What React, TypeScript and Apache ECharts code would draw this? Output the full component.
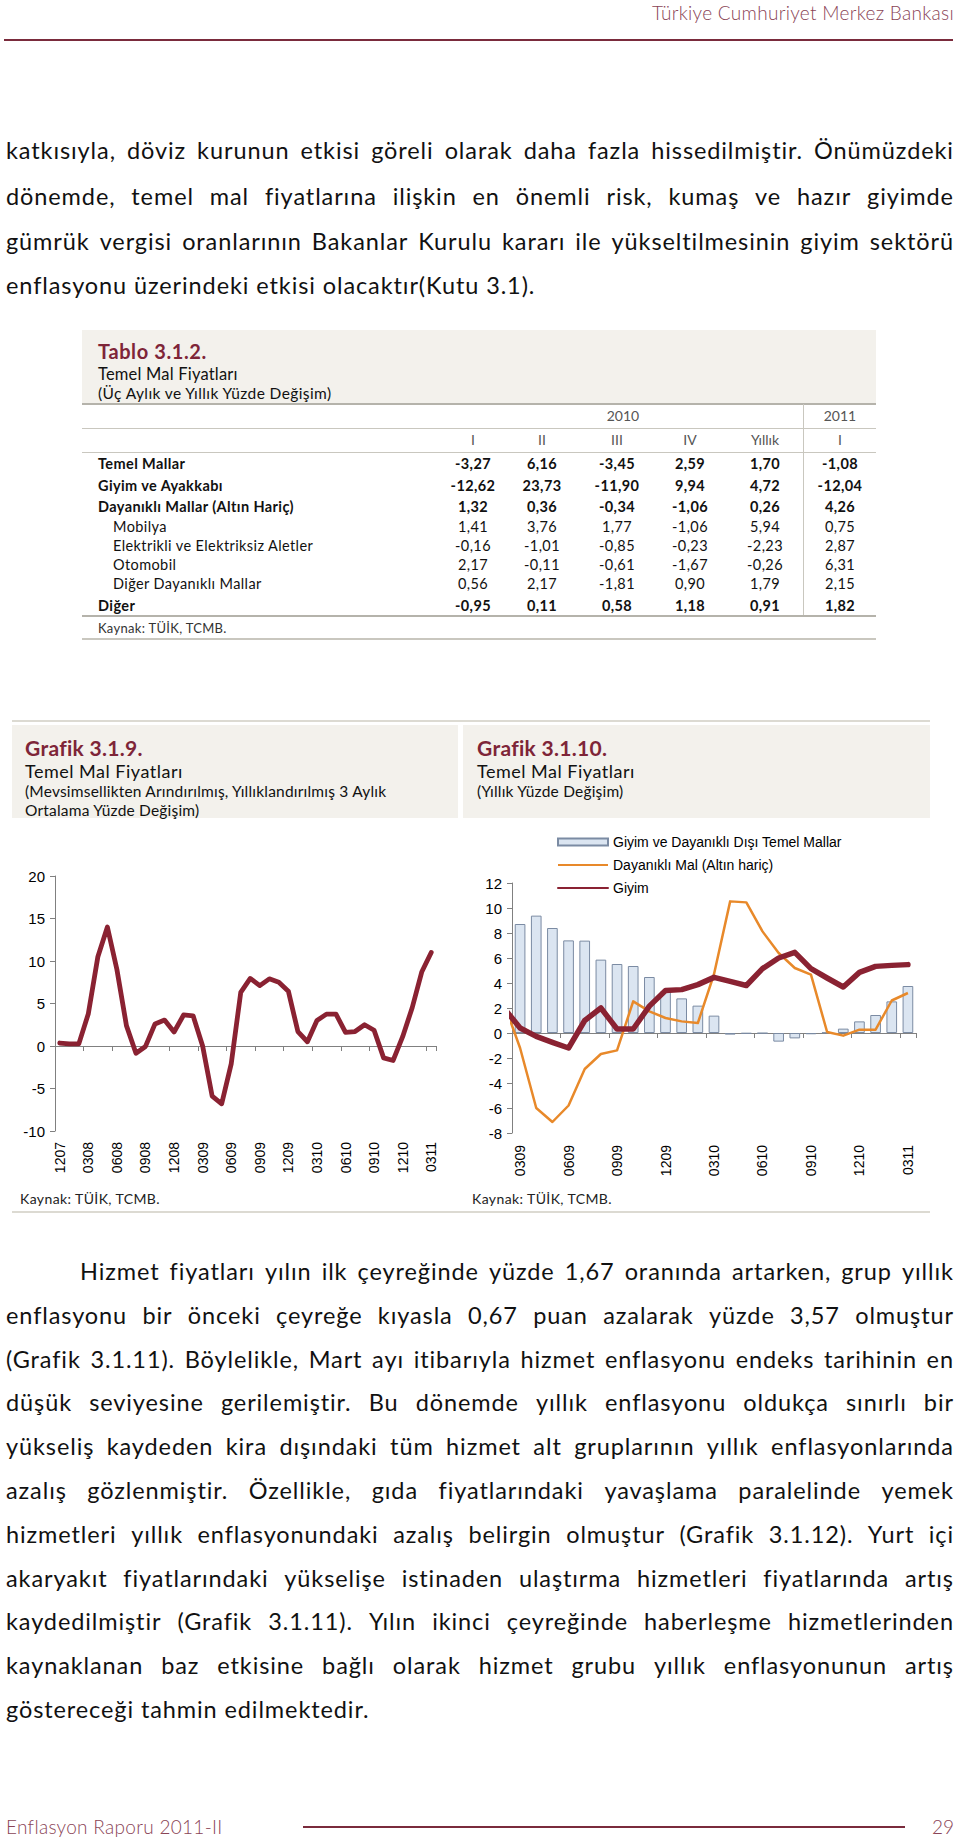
import React, { useEffect, useRef } from "react";
import * as echarts from "echarts";

// ---------- DATA ----------
const tableCols = ["I", "II", "III", "IV", "Yıllık", "I"];
const tableRowLabels = [
  "Temel Mallar",
  "Giyim ve Ayakkabı",
  "Dayanıklı Mallar (Altın Hariç)",
  "Mobilya",
  "Elektrikli ve Elektriksiz Aletler",
  "Otomobil",
  "Diğer Dayanıklı Mallar",
  "Diğer",
];
const tableRowBold = [true, true, true, false, false, false, false, true];
const tableValues = [
  ["-3,27", "6,16", "-3,45", "2,59", "1,70", "-1,08"],
  ["-12,62", "23,73", "-11,90", "9,94", "4,72", "-12,04"],
  ["1,32", "0,36", "-0,34", "-1,06", "0,26", "4,26"],
  ["1,41", "3,76", "1,77", "-1,06", "5,94", "0,75"],
  ["-0,16", "-1,01", "-0,85", "-0,23", "-2,23", "2,87"],
  ["2,17", "-0,11", "-0,61", "-1,67", "-0,26", "6,31"],
  ["0,56", "2,17", "-1,81", "0,90", "1,79", "2,15"],
  ["-0,95", "0,11", "0,58", "1,18", "0,91", "1,82"],
];

const c1Cats = [
  "1207", "0108", "0208", "0308", "0408", "0508", "0608", "0708", "0808", "0908",
  "1008", "1108", "1208", "0109", "0209", "0309", "0409", "0509", "0609", "0709",
  "0809", "0909", "1009", "1109", "1209", "0110", "0210", "0310", "0410", "0510",
  "0610", "0710", "0810", "0910", "1010", "1110", "1210", "0111", "0211", "0311",
];
const c1Values = [
  0.35, 0.25, 0.25, 3.8, 10.5, 14.0, 9.0, 2.4, -0.85, -0.05,
  2.6, 3.05, 1.65, 3.65, 3.55, 0.0, -5.9, -6.8, -2.1, 6.3,
  7.95, 7.1, 7.9, 7.5, 6.45, 1.7, 0.5, 3.0, 3.75, 3.75,
  1.6, 1.7, 2.5, 1.85, -1.4, -1.7, 1.1, 4.5, 8.7, 11.0,
];

const c2Cats = [
  "0309", "0409", "0509", "0609", "0709", "0809", "0909", "1009", "1109", "1209",
  "0110", "0210", "0310", "0410", "0510", "0610", "0710", "0810", "0910", "1010",
  "1110", "1210", "0111", "0211", "0311",
];
const c2Bars = [
  8.72, 9.39, 8.4, 7.41, 7.39, 5.87, 5.52, 5.36, 4.48, 3.33,
  2.77, 2.19, 1.39, -0.13, -0.05, -0.03, -0.69, -0.43, -0.1, 0.03,
  0.35, 0.93, 1.44, 2.53, 3.76,
];
// the two lines start one month earlier (0209); that point lies left of the visible axis
const c2LineMonths = ["0209", ...c2Cats];
const c2Durable = [
  2.4, -1.2, -6.0, -7.12, -5.8, -2.88, -1.68, -1.39, 2.53, 1.73,
  1.2, 0.93, 0.8, 4.7, 10.53, 10.45, 8.13, 6.4, 5.2, 4.67,
  0.08, -0.21, 0.27, 0.27, 2.6, 3.2,
];
const c2Clothing = [
  2.0, 0.4, -0.27, -0.75, -1.2, 1.0, 2.0, 0.32, 0.32, 2.15,
  3.4, 3.47, 3.87, 4.45, 4.13, 3.8, 5.15, 6.0, 6.45, 5.15,
  4.4, 3.68, 4.85, 5.33, 5.41, 5.47,
];
const c2Names = ["Giyim ve Dayanıklı Dışı Temel Mallar", "Dayanıklı Mal (Altın hariç)", "Giyim"];

const para1 = [
  "katkısıyla,  döviz kurunun etkisi göreli olarak daha fazla hissedilmiştir. Önümüzdeki",
  "dönemde, temel mal fiyatlarına ilişkin en önemli risk, kumaş ve hazır giyimde",
  "gümrük vergisi oranlarının Bakanlar Kurulu kararı ile yükseltilmesinin giyim sektörü",
  "enflasyonu üzerindeki etkisi olacaktır(Kutu 3.1).",
];
const para2 = [
  "Hizmet fiyatları yılın ilk çeyreğinde yüzde 1,67 oranında artarken, grup yıllık",
  "enflasyonu bir önceki çeyreğe kıyasla 0,67 puan azalarak yüzde 3,57 olmuştur",
  "(Grafik 3.1.11). Böylelikle, Mart ayı itibarıyla hizmet enflasyonu endeks tarihinin en",
  "düşük seviyesine gerilemiştir. Bu dönemde yıllık enflasyonu oldukça sınırlı bir",
  "yükseliş kaydeden kira dışındaki tüm hizmet alt gruplarının yıllık enflasyonlarında",
  "azalış gözlenmiştir. Özellikle, gıda fiyatlarındaki yavaşlama paralelinde yemek",
  "hizmetleri yıllık enflasyonundaki azalış belirgin olmuştur (Grafik 3.1.12). Yurt içi",
  "akaryakıt fiyatlarındaki yükselişe istinaden ulaştırma hizmetleri fiyatlarında artış",
  "kaydedilmiştir (Grafik 3.1.11). Yılın ikinci çeyreğinde haberleşme hizmetlerinden",
  "kaynaklanan baz etkisine bağlı olarak hizmet grubu yıllık enflasyonunun artış",
  "göstereceği tahmin edilmektedir.",
];

// ---------- STYLE ----------
const MAROON = "#7e2538";
const LINE_RED = "#8a2232";
const ORANGE = "#e8892a";
const BODY_FONT = "Lato, 'Open Sans', sans-serif";
const CHART_FONT = "'Liberation Sans', Arial, sans-serif";
const BEIGE = "#f3f1ec";

function Txt(props: any) {
  const { x, cy, size, children, style, w, align, ls } = props;
  const lh = Math.round(size * 1.3);
  return (
    <div
      style={{
        position: "absolute",
        left: x,
        top: cy - lh / 2,
        width: w,
        fontSize: size,
        lineHeight: `${lh}px`,
        whiteSpace: "nowrap",
        textAlign: align || "left",
        fontFamily: BODY_FONT,
        letterSpacing: ls || 0,
        color: "#111",
        ...style,
      }}
    >
      {children}
    </div>
  );
}

function Rule(props: any) {
  const { x1, x2, y, h, color } = props;
  return (
    <div style={{ position: "absolute", left: x1, top: y - h / 2, width: x2 - x1, height: h, background: color }} />
  );
}

const BODY_SIZE = 23.5;
const BODY_LS = 0.9;

function JLine(props: any) {
  const { text, x, w, cy, justify } = props;
  const base: any = {
    position: "absolute",
    left: x,
    width: w,
    top: cy - 15,
    height: 30,
    fontSize: BODY_SIZE,
    lineHeight: "30px",
    letterSpacing: BODY_LS,
    fontFamily: BODY_FONT,
    color: "#111",
    whiteSpace: "nowrap",
  };
  if (!justify) return <div style={base}>{text}</div>;
  const words = text.split(/\s+/);
  return (
    <div style={{ ...base, display: "flex", justifyContent: "space-between" }}>
      {words.map((wd: string, i: number) => (
        <span key={i} style={{ flexShrink: 0, whiteSpace: "nowrap" }}>{wd}</span>
      ))}
    </div>
  );
}

function Chart1() {
  const ref = useRef<HTMLDivElement>(null);
  useEffect(() => {
    const chart = echarts.init(ref.current!, null, { renderer: "svg" });
    const axisColor = "#808080";
    chart.setOption({
      animation: false,
      grid: { left: 55, top: 46, width: 381, height: 255, containLabel: false },
      xAxis: [
        {
          type: "category",
          data: c1Cats,
          boundaryGap: true,
          axisLine: { show: true, onZero: true, lineStyle: { color: axisColor, width: 1 } },
          axisTick: { show: true, interval: 2, length: 5, lineStyle: { color: axisColor } },
          axisLabel: { show: false },
          splitLine: { show: false },
        },
        {
          type: "category",
          data: c1Cats,
          position: "bottom",
          boundaryGap: true,
          axisLine: { show: false, onZero: false },
          axisTick: { show: false },
          axisLabel: { interval: 2, rotate: 90, fontSize: 14, color: "#000", fontFamily: CHART_FONT, margin: 11 },
          splitLine: { show: false },
        },
      ],
      yAxis: {
        type: "value",
        min: -10,
        max: 20,
        interval: 5,
        axisLine: { show: true, onZero: false, lineStyle: { color: axisColor } },
        axisTick: { show: true, length: 5, lineStyle: { color: axisColor } },
        splitLine: { show: false },
        axisLabel: { fontSize: 15, color: "#000", fontFamily: CHART_FONT, margin: 10 },
      },
      series: [
        {
          type: "line",
          data: c1Values,
          xAxisIndex: 0,
          symbol: "none",
          showSymbol: false,
          lineStyle: { width: 4.8, color: LINE_RED, join: "round", cap: "round" },
        },
      ],
    });
    return () => chart.dispose();
  }, []);
  return <div ref={ref} style={{ position: "absolute", left: 0, top: 830, width: 460, height: 360 }} />;
}

function Chart2() {
  const ref = useRef<HTMLDivElement>(null);
  useEffect(() => {
    const chart = echarts.init(ref.current!, null, { renderer: "svg" });
    const axisColor = "#808080";
    chart.setOption({
      animation: false,
      grid: { left: 52, top: 58, width: 404, height: 250, containLabel: false },
      legend: {
        orient: "vertical",
        left: 92,
        top: 4,
        itemWidth: 50,
        itemHeight: 7,
        itemGap: 7,
        textStyle: { fontSize: 14, color: "#000", fontFamily: CHART_FONT, lineHeight: 16 },
        data: [
          { name: c2Names[0], icon: "rect" },
          { name: c2Names[1], itemStyle: { opacity: 0 } },
          { name: c2Names[2], itemStyle: { opacity: 0 } },
        ],
      },
      xAxis: [
        {
          type: "category",
          data: c2Cats,
          boundaryGap: true,
          axisLine: { show: true, onZero: true, lineStyle: { color: axisColor } },
          axisTick: { show: true, interval: 2, length: 5, lineStyle: { color: axisColor } },
          axisLabel: { show: false },
          splitLine: { show: false },
        },
        {
          type: "category",
          data: c2Cats,
          position: "bottom",
          boundaryGap: true,
          axisLine: { show: false, onZero: false },
          axisTick: { show: false },
          axisLabel: { interval: 2, rotate: 90, fontSize: 14, color: "#000", fontFamily: CHART_FONT, margin: 12 },
          splitLine: { show: false },
        },
        {
          type: "value",
          min: -0.5,
          max: c2Cats.length - 0.5,
          show: false,
          axisLine: { onZero: false },
          splitLine: { show: false },
        },
      ],
      yAxis: {
        type: "value",
        min: -8,
        max: 12,
        interval: 2,
        axisLine: { show: true, onZero: false, lineStyle: { color: axisColor } },
        axisTick: { show: true, length: 5, lineStyle: { color: axisColor } },
        splitLine: { show: false },
        axisLabel: { fontSize: 15, color: "#000", fontFamily: CHART_FONT, margin: 10 },
      },
      series: [
        {
          name: c2Names[0],
          type: "bar",
          data: c2Bars,
          xAxisIndex: 0,
          barCategoryGap: "34%",
          itemStyle: { color: "#dbe5f1", borderColor: "#7b8ba3", borderWidth: 1 },
        },
        {
          name: c2Names[1],
          type: "line",
          xAxisIndex: 2,
          data: c2Durable.map((v, i) => [i - 1, v]),
          symbol: "none",
          showSymbol: false,
          clip: true,
          lineStyle: { width: 2.5, color: ORANGE, join: "round" },
          itemStyle: { color: ORANGE },
          z: 3,
        },
        {
          name: c2Names[2],
          type: "line",
          xAxisIndex: 2,
          data: c2Clothing.map((v, i) => [i - 1, v]),
          symbol: "none",
          showSymbol: false,
          clip: true,
          lineStyle: { width: 5.5, color: LINE_RED, join: "round", cap: "round" },
          itemStyle: { color: LINE_RED },
          z: 4,
        },
      ],
    });
    return () => chart.dispose();
  }, []);
  return <div ref={ref} style={{ position: "absolute", left: 460, top: 825, width: 480, height: 360 }} />;
}

export default function App() {
  const colX = [473, 542, 617, 690, 765, 840];
  const rowY = [463, 485, 506, 526, 545, 564, 583, 605];
  const p1Y = [150, 196, 241, 285];
  const p2Y0 = 1271;
  const p2Step = 43.8;
  const TS = 14.5; // table font size
  const TLS = 0.4;
  return (
    <div style={{ position: "absolute", left: 0, top: 0, width: 960, height: 1840, background: "#fff", overflow: "hidden" }}>
      {/* header */}
      <Txt x={540} w={414} cy={12} size={19} ls={0.3} align="right" style={{ color: "#8a4456", fontWeight: 300 }}>
        Türkiye Cumhuriyet Merkez Bankası
      </Txt>
      <Rule x1={4} x2={953} y={40} h={2} color="#7a2b3c" />

      {/* paragraph 1 */}
      {para1.map((t, i) => (
        <JLine key={"p1" + i} text={t} x={6} w={948} cy={p1Y[i]} justify={i < para1.length - 1} />
      ))}

      {/* table */}
      <div style={{ position: "absolute", left: 82, top: 330, width: 794, height: 73, background: BEIGE }} />
      <Txt x={98} cy={351} size={20} ls={0.6} style={{ color: MAROON, fontWeight: 700 }}>Tablo 3.1.2.</Txt>
      <Txt x={98} cy={374} size={16.5} ls={0.2}>Temel Mal Fiyatları</Txt>
      <Txt x={98} cy={393} size={15.5} ls={0.4}>(Üç Aylık ve Yıllık Yüzde Değişim)</Txt>
      <Rule x1={82} x2={876} y={404} h={1.5} color="#b5b3ab" />
      <Txt x={583} w={80} cy={416} size={14} align="center" style={{ color: "#555" }}>2010</Txt>
      <Txt x={800} w={80} cy={416} size={14} align="center" style={{ color: "#555" }}>2011</Txt>
      <Rule x1={82} x2={876} y={428} h={1} color="#c9c7bf" />
      {tableCols.map((c, j) => (
        <Txt key={"hc" + j} x={colX[j] - 40} w={80} cy={440} size={14} align="center" style={{ color: "#555" }}>{c}</Txt>
      ))}
      <Rule x1={82} x2={876} y={452} h={1} color="#c9c7bf" />
      <div style={{ position: "absolute", left: 803, top: 404, width: 1, height: 212, background: "#c9c7bf" }} />
      {tableRowLabels.map((lab, i) => (
        <Txt key={"rl" + i} x={tableRowBold[i] ? 98 : 113} cy={rowY[i]} size={TS} ls={TLS} style={{ fontWeight: tableRowBold[i] ? 700 : 400 }}>
          {lab}
        </Txt>
      ))}
      {tableValues.map((row, i) =>
        row.map((v, j) => (
          <Txt key={"v" + i + "_" + j} x={colX[j] - 40} w={80} cy={rowY[i]} size={TS} ls={TLS} align="center" style={{ fontWeight: tableRowBold[i] ? 700 : 400 }}>
            {v}
          </Txt>
        ))
      )}
      <Rule x1={82} x2={876} y={616} h={1.5} color="#b5b3ab" />
      <Txt x={98} cy={628} size={13} ls={0.3} style={{ color: "#333" }}>Kaynak: TÜİK, TCMB.</Txt>
      <Rule x1={82} x2={876} y={639} h={1.5} color="#c9c7bf" />

      {/* charts section */}
      <Rule x1={12} x2={930} y={721} h={2} color="#dcdad2" />
      <div style={{ position: "absolute", left: 12, top: 725, width: 446, height: 93, background: BEIGE }} />
      <div style={{ position: "absolute", left: 463, top: 725, width: 467, height: 93, background: BEIGE }} />
      <Txt x={25} cy={747} size={21} ls={0.3} style={{ color: MAROON, fontWeight: 700 }}>Grafik 3.1.9.</Txt>
      <Txt x={25} cy={771} size={18} ls={0.5}>Temel Mal Fiyatları</Txt>
      <Txt x={25} cy={791} size={15.5} ls={0.2}>(Mevsimsellikten Arındırılmış, Yıllıklandırılmış 3 Aylık</Txt>
      <Txt x={25} cy={810} size={15.5} ls={0.2}>Ortalama Yüzde Değişim)</Txt>
      <Txt x={477} cy={747} size={21} ls={0.3} style={{ color: MAROON, fontWeight: 700 }}>Grafik 3.1.10.</Txt>
      <Txt x={477} cy={771} size={18} ls={0.5}>Temel Mal Fiyatları</Txt>
      <Txt x={477} cy={791} size={15.5} ls={0.2}>(Yıllık Yüzde Değişim)</Txt>
      <Chart1 />
      <Chart2 />
      <Txt x={20} cy={1199} size={14} ls={0.4} style={{ color: "#222" }}>Kaynak: TÜİK, TCMB.</Txt>
      <Txt x={472} cy={1199} size={14} ls={0.4} style={{ color: "#222" }}>Kaynak: TÜİK, TCMB.</Txt>
      <Rule x1={12} x2={930} y={1212} h={2} color="#dcdad2" />

      {/* paragraph 2 */}
      {para2.map((t, i) => (
        <JLine
          key={"p2" + i}
          text={t}
          x={i === 0 ? 80 : 6}
          w={i === 0 ? 874 : 948}
          cy={p2Y0 + i * p2Step}
          justify={i < para2.length - 1}
        />
      ))}

      {/* footer */}
      <Txt x={6} cy={1826} size={19} ls={0.3} style={{ color: "#8a4456", fontWeight: 300 }}>Enflasyon Raporu  2011-II</Txt>
      <Rule x1={303} x2={905} y={1827} h={2} color="#7a2b3c" />
      <Txt x={900} w={54} cy={1826} size={19} align="right" style={{ color: "#8a4456", fontWeight: 300 }}>29</Txt>
    </div>
  );
}
